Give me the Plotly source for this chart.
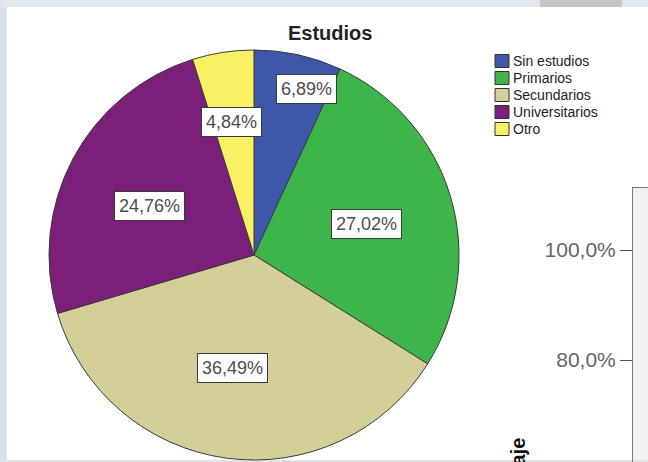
import math
import plotly.graph_objects as go

# ---------------- data ----------------
categories = ["Sin estudios", "Primarios", "Secundarios", "Universitarios", "Otro"]
percentages = [6.89, 27.02, 36.49, 24.76, 4.84]
colors = ["#3e57aa", "#3db54a", "#d4cf97", "#7c1f7b", "#f8f166"]
title_text = "Estudios"

# background chart (partially visible on the right)
bg_tick_values = [80, 100]
bg_tick_labels = [f"{v:.1f}".replace(".", ",") + "%" for v in bg_tick_values]
bg_axis_title = "Porcentaje"

# ---------------- layout constants ----------------
W, H = 648, 462
FONT = "Liberation Sans, Arial, sans-serif"
CX, CY, R = 254, 255, 205  # pie centre / radius in pixels


def px(x):
    return x / W


def py(y):
    return 1 - y / H


fig = go.Figure()

fig.add_trace(go.Pie(
    labels=categories,
    values=percentages,
    sort=False,
    direction="clockwise",
    rotation=0,
    marker=dict(colors=colors, line=dict(color="#3a3a3a", width=1)),
    textinfo="none",
    hoverinfo="label+percent",
    showlegend=False,
    domain=dict(x=[px(CX - R), px(CX + R)], y=[py(CY + R), py(CY - R)]),
))

# empty trace so the background subplot axes render
fig.add_trace(go.Scatter(x=[], y=[], xaxis="x2", yaxis="y2", showlegend=False))

annotations = []
shapes = []

# slice labels (boxed), positioned from the slice angles
label_radius = [0.85, 0.57, 0.56, 0.56, 0.66]
label_nudge = [5, 1, 3, -3, -1]
cum = 0.0
for v, rf, nd in zip(percentages, label_radius, label_nudge):
    mid = (cum + v / 2) / 100 * 360 + nd
    cum += v
    r = rf * R
    x = CX + r * math.sin(math.radians(mid))
    y = CY - r * math.cos(math.radians(mid))
    annotations.append(dict(
        x=px(x), y=py(y), xref="paper", yref="paper",
        text=f"{v:.2f}".replace(".", ",") + "%",
        showarrow=False, xanchor="center", yanchor="middle",
        font=dict(family=FONT, size=18, color="#4d4d4d"),
        bgcolor="white", bordercolor="#3a3a3a", borderwidth=1, borderpad=4,
    ))

# title
annotations.append(dict(
    x=px(330), y=py(33), xref="paper", yref="paper", text=f"<b>{title_text}</b>",
    showarrow=False, xanchor="center", yanchor="middle",
    font=dict(family=FONT, size=20, color="#222222"),
))

# manual legend
leg_y0, leg_dy = 61, 17
for i, (cat, col) in enumerate(zip(categories, colors)):
    yc = leg_y0 + i * leg_dy
    shapes.append(dict(
        type="rect", xref="paper", yref="paper",
        x0=px(495), x1=px(509), y0=py(yc + 6.5), y1=py(yc - 6.5),
        fillcolor=col, line=dict(color="#333333", width=1),
    ))
    annotations.append(dict(
        x=px(511), y=py(yc), xref="paper", yref="paper", text=cat,
        showarrow=False, xanchor="left", yanchor="middle",
        font=dict(family=FONT, size=14, color="#222222"),
    ))

# background strips of the screenshot
shapes += [
    dict(type="rect", xref="paper", yref="paper", x0=0, x1=px(7), y0=0, y1=1,
         fillcolor="#d4e0eb", line=dict(width=0), layer="below"),
    dict(type="rect", xref="paper", yref="paper", x0=0, x1=1, y0=py(7), y1=1,
         fillcolor="#dfe7ef", line=dict(width=0), layer="below"),
    dict(type="rect", xref="paper", yref="paper", x0=px(540), x1=px(622), y0=py(7), y1=1,
         fillcolor="#c6c6c6", line=dict(width=0), layer="below"),
    dict(type="rect", xref="paper", yref="paper", x0=0, x1=1, y0=0, y1=py(460),
         fillcolor="#e2e2e2", line=dict(width=0), layer="below"),
]

# partially visible axis title of the background chart
annotations.append(dict(
    x=px(518), y=py(436), xref="paper", yref="paper", text=f"<b>{bg_axis_title}</b>",
    textangle=-90, showarrow=False, xanchor="center", yanchor="top",
    font=dict(family=FONT, size=20, color="#111111"),
))

top_val = 100 + (250 - 188) / 5.5
bot_val = 100 - (462 - 250) / 5.5

fig.update_layout(
    width=W, height=H,
    margin=dict(l=0, r=0, t=0, b=0),
    paper_bgcolor="white",
    plot_bgcolor="#f1f1f1",
    annotations=annotations,
    shapes=shapes,
    xaxis2=dict(domain=[px(633), 1], anchor="y2", showticklabels=False, ticks="",
                showgrid=False, zeroline=False, showline=True, linecolor="#7a7a7a",
                mirror=True, range=[0, 1]),
    yaxis2=dict(domain=[0, py(188)], anchor="x2", range=[bot_val, top_val],
                tickmode="array", tickvals=bg_tick_values, ticktext=bg_tick_labels,
                ticks="outside", ticklen=12, tickcolor="#555555",
                tickfont=dict(family=FONT, size=21, color="#666666"),
                showgrid=False, zeroline=False, showline=True, linecolor="#7a7a7a",
                mirror=True),
)

fig.write_html(
    "out.html",
    config={"displayModeBar": False},
    post_script="document.body.style.margin='0';document.body.style.overflow='hidden';",
)
